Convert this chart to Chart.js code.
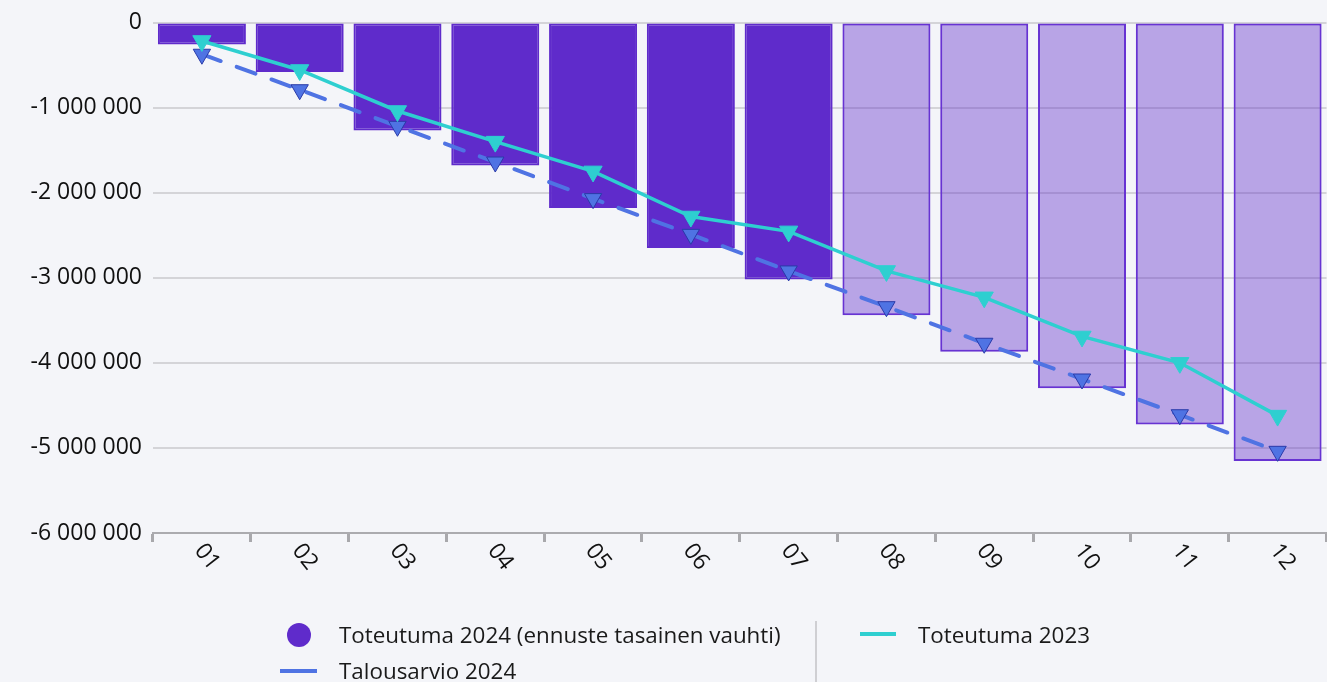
<!DOCTYPE html>
<html>
<head>
<meta charset="utf-8">
<script src="https://cdn.jsdelivr.net/npm/chart.js@4"></script>
<style>
  html, body { margin: 0; padding: 0; background: #f4f5f9; overflow: hidden; }
  #wrap { position: relative; width: 1327px; height: 682px; overflow: hidden; }
  #chart { position: absolute; left: 0; top: 0; }
  .legend { position: absolute; left: 0; top: 0; width: 1327px; height: 682px; font-family: "Segoe UI", "Open Sans", sans-serif; font-size: 22.4px; color: #1a1a1a; white-space: nowrap; }
  .legend span { position: absolute; line-height: 30px; }
  .swatch { position: absolute; }
</style>
</head>
<body>
<div id="wrap">
  <canvas id="chart" width="1338" height="682"></canvas>
  <div class="legend">
    <div class="swatch" style="left:287px;top:623px;width:24px;height:24px;border-radius:50%;background:#5f2bcb"></div>
    <span style="left:339px;top:620px">Toteutuma 2024 (ennuste tasainen vauhti)</span>
    <div class="swatch" style="left:815px;top:621px;width:2px;height:61px;background:#cfcfd3"></div>
    <div class="swatch" style="left:860px;top:632px;width:36px;height:4px;background:#2ecfd0"></div>
    <span style="left:918px;top:620px">Toteutuma 2023</span>
    <div class="swatch" style="left:280px;top:669px;width:37px;height:4px;background:#4f73e3"></div>
    <span style="left:339px;top:656px">Talousarvio 2024</span>
  </div>
</div>
<script>
// kuukaudet
const months = ['01', '02', '03', '04', '05', '06', '07', '08', '09', '10', '11', '12'];

// Toteutuma 2024, kuukaudet 08-12 ovat ennustetta
const toteutuma2024 = [-258000, -583000, -1268000, -1680000, -2180000, -2650000, -3020000, -3440000, -3870000, -4300000, -4725000, -5155000];
const actualMonths = 7;

const toteutuma2023 = [-217000, -558000, -1040000, -1400000, -1750000, -2280000, -2455000, -2920000, -3230000, -3690000, -4000000, -4620000];
const talousarvio2024 = [-373000, -790000, -1220000, -1640000, -2070000, -2490000, -2920000, -3340000, -3770000, -4190000, -4610000, -5040000];

// y-akselin rajat
const yMin = -6000000;
const yMax = 0;
const yStep = 1000000;

const FONT = '"Segoe UI", "Open Sans", sans-serif';
const PURPLE = '#5f2bcb';
const PURPLE_LIGHT = 'rgba(95, 43, 203, 0.4)';
const TEAL = '#2ecfd0';
const BLUE = '#4f73e3';

function formatNumber(v) {
  const s = String(Math.abs(v)).replace(/\B(?=(\d{3})+(?!\d))/g, ' ');
  return (v < 0 ? '-' : '') + s;
}

// x-akselin kierretyt nimikkeet (teksti alaspäin oikealle)
const rotatedLabels = {
  id: 'rotatedLabels',
  afterDraw(chart) {
    const ctx = chart.ctx;
    const x = chart.scales.x;
    ctx.save();
    ctx.font = '23px ' + FONT;
    ctx.fillStyle = '#111';
    ctx.textAlign = 'center';
    ctx.textBaseline = 'middle';
    months.forEach((m, i) => {
      ctx.save();
      ctx.translate(x.getPixelForTick(i) + 5, x.bottom + 15);
      ctx.rotate(Math.PI * 52 / 180);
      ctx.fillText(m, 0, 0);
      ctx.restore();
    });
    ctx.restore();
  }
};

Chart.defaults.font.family = FONT;

new Chart(document.getElementById('chart'), {
  data: {
    labels: months,
    datasets: [
      {
        type: 'line',
        label: 'Toteutuma 2023',
        data: toteutuma2023,
        borderColor: TEAL,
        backgroundColor: TEAL,
        borderWidth: 3.5,
        tension: 0,
        pointStyle: 'triangle',
        rotation: 180,
        pointRadius: 10.5,
        pointBorderColor: TEAL,
        pointBorderWidth: 1,
        order: 1
      },
      {
        type: 'line',
        label: 'Talousarvio 2024',
        data: talousarvio2024,
        borderColor: BLUE,
        backgroundColor: BLUE,
        borderWidth: 4,
        borderDash: [20, 17],
        borderCapStyle: 'round',
        tension: 0,
        pointStyle: 'triangle',
        rotation: 180,
        pointRadius: 10,
        pointBorderColor: '#2a3aa8',
        pointBorderWidth: 1,
        order: 2
      },
      {
        type: 'bar',
        label: 'Toteutuma 2024 (ennuste tasainen vauhti)',
        data: toteutuma2024,
        backgroundColor: toteutuma2024.map((v, i) => i < actualMonths ? PURPLE : PURPLE_LIGHT),
        borderColor: toteutuma2024.map((v, i) => i < actualMonths ? PURPLE : '#6733d2'),
        borderWidth: 2,
        borderSkipped: false,
        categoryPercentage: 0.9,
        barPercentage: 1,
        order: 3
      }
    ]
  },
  options: {
    responsive: false,
    animation: false,
    devicePixelRatio: 1,
    layout: { padding: { top: 22, right: 0, bottom: 140, left: 0 } },
    plugins: {
      legend: { display: false },
      tooltip: { enabled: false }
    },
    scales: {
      x: {
        offset: true,
        grid: {
          offset: true,
          drawOnChartArea: false,
          drawTicks: true,
          tickLength: 9,
          tickWidth: 3,
          tickColor: '#a8a8ac'
        },
        border: { display: true, color: '#ababaf', width: 2 },
        ticks: { display: false }
      },
      y: {
        min: yMin,
        max: yMax,
        afterFit(scale) { scale.width = 153; },
        ticks: {
          stepSize: yStep,
          padding: 11,
          color: '#111',
          font: { size: 23, lineHeight: 1 },
          callback: v => formatNumber(v)
        },
        grid: { color: '#d4d4d8', lineWidth: 2, drawTicks: false },
        border: { display: false }
      }
    }
  },
  plugins: [rotatedLabels]
});
</script>
</body>
</html>
